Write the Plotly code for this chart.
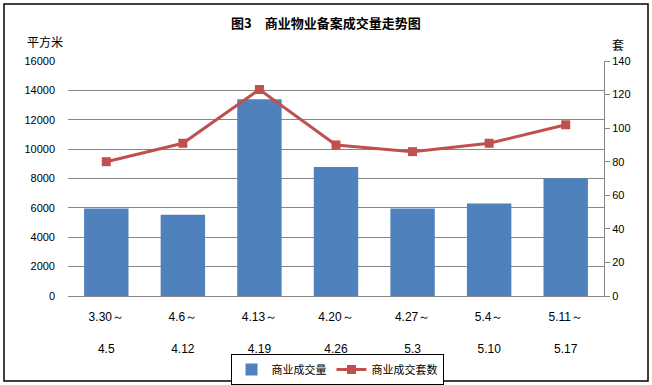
import plotly.graph_objects as go

categories = ["3.30～<br><br>4.5", "4.6～<br><br>4.12", "4.13～<br><br>4.19", "4.20～<br><br>4.26",
              "4.27～<br><br>5.3", "5.4～<br><br>5.10", "5.11～<br><br>5.17"]
area = [5950, 5540, 13400, 8780, 5950, 6300, 8020]
units = [80, 91, 123, 90, 86, 91, 102]
left_ticks = [0, 2000, 4000, 6000, 8000, 10000, 12000, 14000, 16000]
right_ticks = [0, 20, 40, 60, 80, 100, 120, 140]

BLUE = "#4F81BD"
RED = "#C0504D"
GRID = "#868686"
NUMFONT = "Liberation Sans, DejaVu Sans, sans-serif"
CJK = "Noto Sans CJK SC, sans-serif"

fig = go.Figure()
fig.add_trace(go.Bar(x=categories, y=area, name="商业成交量", marker_color=BLUE,
                     marker_line_width=0, yaxis="y"))
fig.add_trace(go.Scatter(x=categories, y=units, name="商业成交套数", mode="lines+markers",
                         line=dict(color=RED, width=3),
                         marker=dict(symbol="square", size=9, color=RED),
                         yaxis="y2"))

W, H = 652, 385
L, R, T, B = 68, 48, 61, 89
pw, ph = W - L - R, H - T - B

def px(x):
    return (x - L) / pw

def py(y):
    return (H - B - y) / ph

fig.update_layout(
    width=W, height=H,
    margin=dict(l=L, r=R, t=T, b=B, autoexpand=False),
    paper_bgcolor="white", plot_bgcolor="white",
    bargap=0.42,
    showlegend=True,
    legend=dict(orientation="h", x=px(337), xanchor="center", y=py(354), yanchor="top",
                bordercolor="black", borderwidth=1, font=dict(family=CJK, size=11, color="black"),
                itemwidth=30, tracegroupgap=0, bgcolor="white"),
    xaxis=dict(showline=True, linecolor=GRID, linewidth=1, ticks="", showgrid=False,
               automargin=False,
               tickfont=dict(family=NUMFONT, size=12, color="black"), ticklabelstandoff=10),
    yaxis=dict(range=[0, 16000], tickvals=left_ticks, tickformat="d", showgrid=True,
               gridcolor=GRID, gridwidth=1, automargin=False,
               showline=False, zeroline=False, ticks="",
               tickfont=dict(family=NUMFONT, size=11, color="black"), ticklabelstandoff=12),
    yaxis2=dict(range=[0, 140], tickvals=right_ticks, overlaying="y", side="right",
                showgrid=False, showline=True, linecolor=GRID, linewidth=1, zeroline=False,
                ticks="outside", ticklen=5, tickcolor=GRID, automargin=False,
                tickfont=dict(family=NUMFONT, size=11, color="black")),
)

fig.add_annotation(text="<b>图3　商业物业备案成交量走势图</b>", xref="paper", yref="paper",
                   x=px(326), y=py(22), xanchor="center", yanchor="middle", showarrow=False,
                   font=dict(family=CJK, size=13, color="black"))
fig.add_annotation(text="平方米", xref="paper", yref="paper", x=px(25), y=py(41),
                   xanchor="left", yanchor="middle", showarrow=False,
                   font=dict(family=CJK, size=12, color="black"))
fig.add_annotation(text="套", xref="paper", yref="paper", x=px(618), y=py(44),
                   xanchor="center", yanchor="middle", showarrow=False,
                   font=dict(family=CJK, size=12, color="black"))
fig.add_shape(type="rect", xref="paper", yref="paper", x0=px(4), x1=px(648), y0=py(381), y1=py(4),
              line=dict(color="black", width=1.5), layer="below")

fig.write_html("out.html", config={"displayModeBar": False},
               post_script="document.body.style.margin='0';")
